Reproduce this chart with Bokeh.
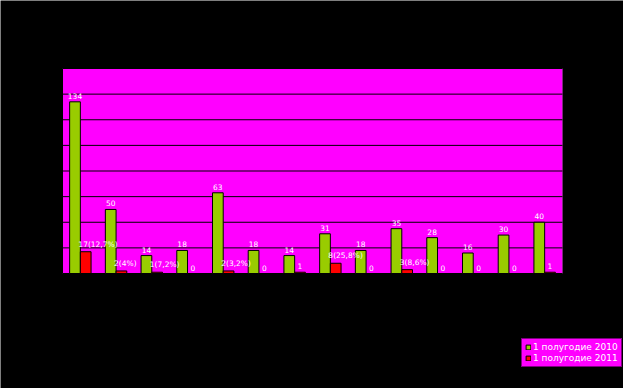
import numpy as np
from bokeh.plotting import figure
from bokeh.models import Range1d, ColumnDataSource, Legend, LegendItem, BoxAnnotation
from bokeh.core.properties import value
from bokeh.embed import file_html
from bokeh.resources import INLINE

# ---- data ----
series_names = ["1 полугодие 2010", "1 полугодие 2011"]
series_colors = ["#99CC00", "#FF0000"]
values_2010 = [134, 50, 14, 18, 63, 18, 14, 31, 18, 35, 28, 16, 30, 40]
values_2011 = [17, 2, 1, 0, 2, 0, 1, 8, 0, 3, 0, 0, 0, 1]
labels_2011 = ["17(12,7%)", "2(4%)", "1(7,2%)", "0", "2(3,2%)", "0", "1",
               "8(25,8%)", "0", "3(8,6%)", "0", "0", "0", "1"]
y_ticks = [0, 20, 40, 60, 80, 100, 120, 140, 160]

# ---- layout (pixels) ----
FIG_W, FIG_H = 623, 388
AREA_L, AREA_R, AREA_T, AREA_B = 62, 562, 68, 273

n = len(values_2010)
idx = np.arange(n)
W = 0.3
ymin, ymax = y_ticks[0], y_ticks[-1]
ppx = (AREA_R - AREA_L) / n              # px per category
ppy = (AREA_B - AREA_T) / (ymax - ymin)  # px per unit
x_range = Range1d(0 - AREA_L / ppx, n + (FIG_W - AREA_R) / ppx)
y_range = Range1d(ymin - (FIG_H - AREA_B) / ppy, ymax + AREA_T / ppy)

src_a = ColumnDataSource(dict(x=idx + 0.35, top=values_2010,
                              lab=[str(v) for v in values_2010]))
short = [i for i, s in enumerate(labels_2011) if "(" not in s]
long_ = [i for i, s in enumerate(labels_2011) if "(" in s]
src_b = ColumnDataSource(dict(x=idx + 0.65, top=values_2011))
src_bs = ColumnDataSource(dict(x=[i + 0.65 for i in short],
                               top=[values_2011[i] for i in short],
                               lab=[labels_2011[i] for i in short]))
src_bl = ColumnDataSource(dict(x=[i + 0.65 - W / 2 for i in long_],
                               top=[values_2011[i] for i in long_],
                               lab=[labels_2011[i] for i in long_]))

p = figure(width=FIG_W, height=FIG_H, output_backend="svg", toolbar_location=None,
           x_range=x_range, y_range=y_range,
           min_border=0, min_border_left=0, min_border_right=0,
           min_border_top=0, min_border_bottom=0)
p.border_fill_color = "black"
p.background_fill_color = "black"
p.outline_line_color = None
p.xaxis.visible = False
p.yaxis.visible = False
p.grid.visible = False

area = BoxAnnotation(left=0, right=n, bottom=ymin, top=ymax,
                     fill_color="#FF00FF", fill_alpha=1,
                     line_color="#808080", line_width=1, level="underlay")
p.add_layout(area)

# horizontal grid lines and left axis line
p.segment(x0=[0] * len(y_ticks), x1=[n] * len(y_ticks), y0=y_ticks, y1=y_ticks,
          line_color="black", line_width=1)
p.segment(x0=[0], x1=[0], y0=[ymin], y1=[ymax], line_color="black", line_width=1)

ra = p.vbar(x="x", top="top", width=W, bottom=0, source=src_a,
            fill_color=series_colors[0], line_color="black", line_width=1)
rb = p.vbar(x="x", top="top", width=W, bottom=0, source=src_b,
            fill_color=series_colors[1], line_color="black", line_width=1)

font = value("DejaVu Sans")
fs = "7.5px"
p.text(x="x", y="top", text="lab", source=src_a, text_align="center",
       text_baseline="bottom", y_offset=-3, text_font=font,
       text_font_size=fs, text_color="white")
p.text(x="x", y="top", text="lab", source=src_bs, text_align="center",
       text_baseline="bottom", y_offset=-3, text_font=font,
       text_font_size=fs, text_color="white")
p.text(x="x", y="top", text="lab", source=src_bl, text_align="left",
       text_baseline="bottom", y_offset=-3, x_offset=-2, text_font=font,
       text_font_size=fs, text_color="white")

legend = Legend(items=[LegendItem(label=series_names[0], renderers=[ra]),
                       LegendItem(label=series_names[1], renderers=[rb])],
                location=(521, 21))
legend.background_fill_color = "#FF00FF"
legend.background_fill_alpha = 1
legend.border_line_color = "black"
legend.label_text_color = "white"
legend.label_text_font = "DejaVu Sans"
legend.label_text_font_size = "9px"
legend.glyph_width = 6
legend.glyph_height = 6
legend.label_height = 10
legend.label_standoff = 2
legend.spacing = 1
legend.padding = 3
legend.margin = 0
p.add_layout(legend, "center")

html = file_html(p, INLINE)
html = html.replace("<body>", '<body style="background:#000000">', 1)
open("out.html", "w").write(html)
